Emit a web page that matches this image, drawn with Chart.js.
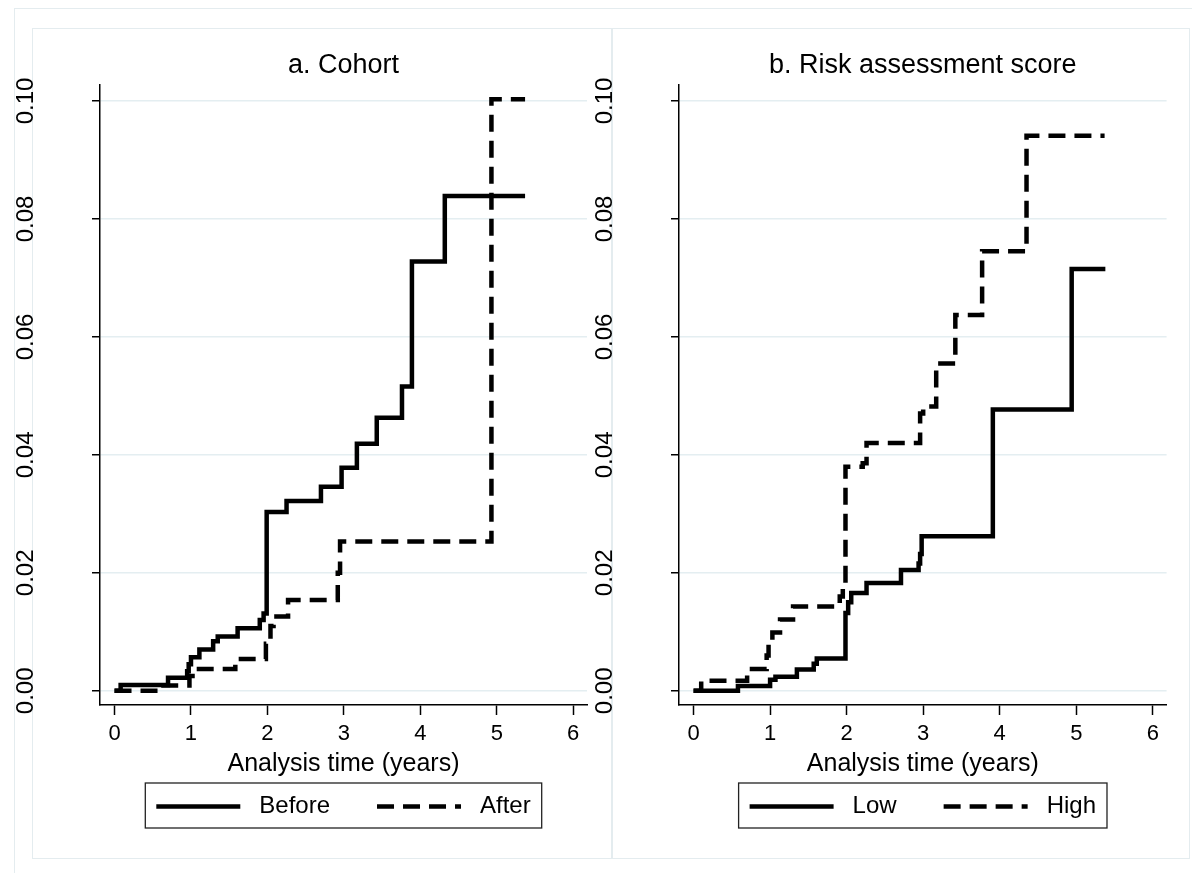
<!DOCTYPE html>
<html>
<head>
<meta charset="utf-8">
<script src="https://cdn.jsdelivr.net/npm/chart.js@4/dist/chart.umd.min.js"></script>
<style>
  body { margin: 0; width: 1192px; height: 873px; overflow: hidden; position: relative; background: #fff; }
  .frame { position: absolute; border: 1.5px solid #e4ecef; box-sizing: border-box; }
  canvas { position: absolute; top: 0; }
</style>
</head>
<body>
<div class="frame" style="left:14px;top:8px;width:1200px;height:900px"></div>
<div class="frame" style="left:32px;top:28px;width:581px;height:831px"></div>
<div class="frame" style="left:611px;top:28px;width:579px;height:831px"></div>
<canvas id="chartA" width="600" height="873" style="left:0"></canvas>
<canvas id="chartB" width="612" height="873" style="left:580px"></canvas>
<script>
// tick labels
var xTicks = [0, 1, 2, 3, 4, 5, 6];
var yTicks = [0, 0.02, 0.04, 0.06, 0.08, 0.10];

// a. Cohort - cumulative failure, step changes (years, proportion)
var beforeTime = [0, 0.08, 0.70, 0.95, 0.97, 1.00, 1.11, 1.29, 1.35, 1.61, 1.90, 1.95, 1.99, 2.25, 2.70, 2.97, 3.17, 3.43, 3.76, 3.89, 4.32, 5.37];
var beforeRisk = [0, 0.0010, 0.0022, 0.0033, 0.0045, 0.0057, 0.0070, 0.0084, 0.0092, 0.0106, 0.0120, 0.0131, 0.0303, 0.0322, 0.0346, 0.0378, 0.0419, 0.0463, 0.0516, 0.0728, 0.0839, 0.0839];
var afterTime = [0, 0.60, 0.98, 1.02, 1.58, 1.98, 2.04, 2.08, 2.27, 2.92, 2.95, 4.93, 5.37];
var afterRisk = [0, 0.0009, 0.0025, 0.0037, 0.0054, 0.0080, 0.0110, 0.0126, 0.0154, 0.0200, 0.0253, 0.1003, 0.1003];

// b. Risk assessment score
var lowTime = [0, 0.58, 1.00, 1.07, 1.35, 1.57, 1.61, 1.985, 2.02, 2.06, 2.26, 2.71, 2.94, 2.96, 2.98, 3.91, 4.94, 5.38];
var lowRisk = [0, 0.0008, 0.0019, 0.0024, 0.0036, 0.0046, 0.0055, 0.0132, 0.0150, 0.0166, 0.0183, 0.0205, 0.0216, 0.0232, 0.0262, 0.0477, 0.0715, 0.0715];
var highTime = [0, 0.10, 0.70, 0.955, 0.98, 1.03, 1.13, 1.30, 1.91, 1.95, 1.985, 2.21, 2.26, 2.96, 3.00, 3.17, 3.42, 3.77, 4.35, 5.37];
var highRisk = [0, 0.0017, 0.0037, 0.0060, 0.0081, 0.0099, 0.0121, 0.0143, 0.0160, 0.0174, 0.0380, 0.0386, 0.0420, 0.0470, 0.0482, 0.0555, 0.0637, 0.0745, 0.0941, 0.0941];

var FONT = '"Liberation Sans", Arial, sans-serif';
Chart.defaults.font.family = FONT;
Chart.defaults.color = '#000';

function points(t, v) {
    return t.map(function (x, i) { return {x: x, y: v[i]}; });
}

function series(label, t, v, dash) {
    return {
        label: label,
        data: points(t, v),
        borderColor: '#000',
        borderWidth: 4.5,
        borderDash: dash,
        borderJoinStyle: 'miter',
        borderCapStyle: 'butt',
        stepped: 'before',
        pointRadius: 0,
        fill: false
    };
}

// rotated y labels, Stata style
var yTickLabels = {
    id: 'yTickLabels',
    afterDraw: function (chart) {
        var ctx = chart.ctx, y = chart.scales.y;
        ctx.save();
        ctx.font = '24px ' + FONT;
        ctx.fillStyle = '#000';
        ctx.textAlign = 'center';
        ctx.textBaseline = 'middle';
        y.ticks.forEach(function (t) {
            ctx.save();
            ctx.translate(chart.chartArea.left - 73.5, y.getPixelForValue(t.value));
            ctx.rotate(-Math.PI / 2);
            ctx.fillText(t.value.toFixed(2), 0, 0);
            ctx.restore();
        });
        ctx.restore();
    }
};

// boxed legend under the axis title
var legendBox = {
    id: 'legendBox',
    afterDraw: function (chart) {
        var ctx = chart.ctx, area = chart.chartArea;
        var sets = chart.data.datasets;
        var pad = 11, sample = 84, gap = 19, colGap = 47;
        ctx.save();
        ctx.font = '24px ' + FONT;
        var widths = sets.map(function (d) { return ctx.measureText(d.label).width; });
        var total = 2 * pad + sets.length * (sample + gap) + colGap * (sets.length - 1);
        widths.forEach(function (w) { total += w; });
        var x = (area.left + area.right) / 2 - total / 2;
        var top = chart.scales.x.bottom, h = 45, mid = top + h / 2 + 1;
        ctx.strokeStyle = '#222';
        ctx.lineWidth = 1.3;
        ctx.strokeRect(x, top, total, h);
        x += pad;
        sets.forEach(function (d, i) {
            ctx.strokeStyle = '#000';
            ctx.lineWidth = d.borderWidth;
            ctx.lineCap = 'butt';
            ctx.setLineDash(d.borderDash || []);
            ctx.beginPath();
            ctx.moveTo(x, mid);
            ctx.lineTo(x + sample, mid);
            ctx.stroke();
            ctx.setLineDash([]);
            x += sample + gap;
            ctx.fillStyle = '#000';
            ctx.textBaseline = 'middle';
            ctx.fillText(d.label, x, mid);
            x += widths[i] + colGap;
        });
        ctx.restore();
    }
};

function makePanel(id, title, datasets, padLeft, padRight) {
    return new Chart(document.getElementById(id), {
        type: 'line',
        data: {datasets: datasets},
        options: {
            responsive: false,
            animation: false,
            layout: {padding: {left: padLeft, right: padRight, top: 38.6, bottom: 90}},
            scales: {
                x: {
                    type: 'linear',
                    min: -0.19,
                    max: 6.18,
                    afterBuildTicks: function (s) { s.ticks = xTicks.map(function (v) { return {value: v}; }); },
                    afterFit: function (s) { s.height = 78; },
                    grid: {drawOnChartArea: false, drawTicks: true, tickLength: 10, tickColor: '#000', tickWidth: 1.5},
                    border: {color: '#000', width: 1.5},
                    ticks: {font: {size: 22}, color: '#000', padding: 6, maxRotation: 0, autoSkip: false},
                    title: {display: true, text: 'Analysis time (years)', font: {size: 25}, color: '#000', padding: {top: 0, bottom: 4}}
                },
                y: {
                    type: 'linear',
                    min: -0.0024,
                    max: 0.1027,
                    afterBuildTicks: function (s) { s.ticks = yTicks.map(function (v) { return {value: v}; }); },
                    afterFit: function (s) { s.width = 10; },
                    grid: {color: '#e4eef1', lineWidth: 1.5, tickLength: 8, tickColor: '#000', tickWidth: 1.5},
                    border: {color: '#000', width: 1.5},
                    ticks: {display: false}
                }
            },
            plugins: {
                legend: {display: false},
                tooltip: {enabled: false},
                title: {display: true, text: title, fullSize: false, font: {size: 27, weight: 'normal'}, color: '#000', padding: {top: 11, bottom: 3}}
            }
        },
        plugins: [yTickLabels, legendBox]
    });
}

makePanel('chartA', 'a. Cohort', [
    series('Before', beforeTime, beforeRisk, []),
    series('After', afterTime, afterRisk, [17, 9])
], 90, 13);

makePanel('chartB', 'b. Risk assessment score', [
    series('Low', lowTime, lowRisk, []),
    series('High', highTime, highRisk, [17, 9])
], 89, 25.4);
</script>
</body>
</html>
